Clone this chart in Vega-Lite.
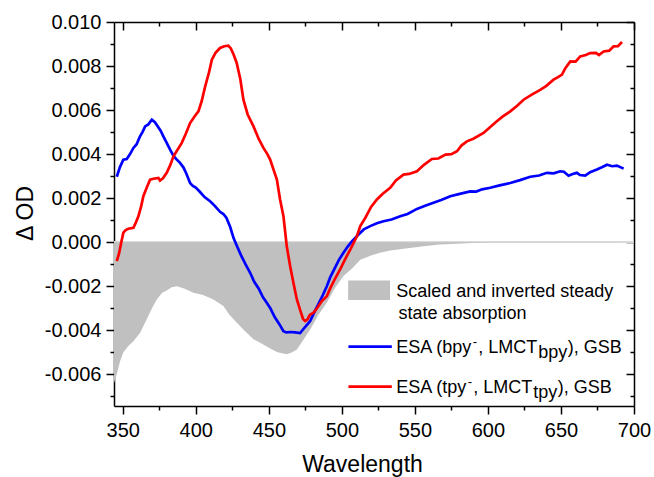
{
  "$schema": "https://vega.github.io/schema/vega-lite/v6.json",
  "width": 520,
  "height": 384,
  "autosize": {"type": "none"},
  "padding": {"left": 114, "top": 22, "right": 20, "bottom": 71},
  "background": "white",
  "config": {
    "view": {"stroke": null},
    "axis": {
      "domainColor": "black", "tickColor": "black", "labelColor": "black", "titleColor": "black",
      "grid": false, "domainWidth": 1.5, "tickWidth": 1.5,
      "labelFont": "Liberation Sans", "titleFont": "Liberation Sans",
      "labelFontSize": 20, "titleFontSize": 23, "titleFontWeight": "normal",
      "labelFlush": false, "labelOverlap": false, "labelBound": false
    },
    "text": {"font": "Liberation Sans", "fontSize": 18, "align": "left", "baseline": "alphabetic", "color": "black"}
  },
  "datasets": {
    "one": [{"k": 1}],
    "ssa": [
      {"wl": 344, "od": -0.0064}, {"wl": 346.3, "od": -0.0059}, {"wl": 348.2, "od": -0.0054}, {"wl": 350.4, "od": -0.0050},
      {"wl": 354, "od": -0.0047}, {"wl": 357.3, "od": -0.0045}, {"wl": 362, "od": -0.0041}, {"wl": 366.4, "od": -0.0035},
      {"wl": 370, "od": -0.003}, {"wl": 373.3, "od": -0.0026}, {"wl": 377, "od": -0.0023}, {"wl": 380.1, "od": -0.0022},
      {"wl": 383.5, "od": -0.00205}, {"wl": 387, "od": -0.002}, {"wl": 392, "od": -0.0021}, {"wl": 398.4, "od": -0.0023},
      {"wl": 405, "od": -0.0024}, {"wl": 412, "od": -0.0026}, {"wl": 418.9, "od": -0.0029}, {"wl": 423, "od": -0.0033},
      {"wl": 428.1, "od": -0.00366}, {"wl": 433, "od": -0.004}, {"wl": 439.5, "od": -0.00441}, {"wl": 445, "od": -0.0046},
      {"wl": 450.9, "od": -0.00483}, {"wl": 456, "od": -0.005}, {"wl": 462.3, "od": -0.00509}, {"wl": 466, "od": -0.005},
      {"wl": 469.2, "od": -0.00487}, {"wl": 473, "od": -0.0045}, {"wl": 478.3, "od": -0.00396}, {"wl": 484, "od": -0.0033},
      {"wl": 489.7, "od": -0.00275}, {"wl": 495, "od": -0.0021}, {"wl": 501.1, "od": -0.00154}, {"wl": 507, "od": -0.0012},
      {"wl": 512.6, "od": -0.0008}, {"wl": 520, "od": -0.0006}, {"wl": 526, "od": -0.00048}, {"wl": 533.1, "od": -0.00038},
      {"wl": 545, "od": -0.00027}, {"wl": 555.9, "od": -0.00018}, {"wl": 567, "od": -0.00011}, {"wl": 578.8, "od": -0.00007},
      {"wl": 590, "od": -0.00004}, {"wl": 600, "od": -0.00002}, {"wl": 620, "od": -0.00001}, {"wl": 700, "od": -0.000005}
    ],
    "esa": [
      {"series": "bpy", "wl": 345.9, "od": 0.00297}, {"series": "bpy", "wl": 348, "od": 0.0034}, {"series": "bpy", "wl": 350.4, "od": 0.00375},
      {"series": "bpy", "wl": 352.7, "od": 0.00378}, {"series": "bpy", "wl": 355, "od": 0.004}, {"series": "bpy", "wl": 357.3, "od": 0.00428},
      {"series": "bpy", "wl": 359.5, "od": 0.00445}, {"series": "bpy", "wl": 361.8, "od": 0.00481}, {"series": "bpy", "wl": 363.5, "od": 0.005},
      {"series": "bpy", "wl": 365.3, "od": 0.00526}, {"series": "bpy", "wl": 367.5, "od": 0.00535}, {"series": "bpy", "wl": 369.9, "od": 0.00556},
      {"series": "bpy", "wl": 372, "od": 0.00545}, {"series": "bpy", "wl": 374, "od": 0.00525}, {"series": "bpy", "wl": 376, "od": 0.00505},
      {"series": "bpy", "wl": 377.8, "od": 0.00481}, {"series": "bpy", "wl": 380, "od": 0.00452}, {"series": "bpy", "wl": 382.4, "od": 0.0042},
      {"series": "bpy", "wl": 384.5, "od": 0.00395}, {"series": "bpy", "wl": 386.5, "od": 0.00378}, {"series": "bpy", "wl": 389.2, "od": 0.0036},
      {"series": "bpy", "wl": 391.5, "od": 0.0034}, {"series": "bpy", "wl": 393.5, "od": 0.00312}, {"series": "bpy", "wl": 396.1, "od": 0.00269},
      {"series": "bpy", "wl": 398, "od": 0.00255}, {"series": "bpy", "wl": 400, "od": 0.00248}, {"series": "bpy", "wl": 402.9, "od": 0.00228},
      {"series": "bpy", "wl": 406, "od": 0.00205}, {"series": "bpy", "wl": 409.8, "od": 0.00186}, {"series": "bpy", "wl": 413, "od": 0.00165},
      {"series": "bpy", "wl": 416.6, "od": 0.00138}, {"series": "bpy", "wl": 418.9, "od": 0.00128}, {"series": "bpy", "wl": 421, "od": 0.0011},
      {"series": "bpy", "wl": 423.5, "od": 0.0007}, {"series": "bpy", "wl": 425.8, "od": 0.0002}, {"series": "bpy", "wl": 428, "od": -0.00015},
      {"series": "bpy", "wl": 431, "od": -0.0006}, {"series": "bpy", "wl": 434, "od": -0.001}, {"series": "bpy", "wl": 437.2, "od": -0.00139},
      {"series": "bpy", "wl": 440, "od": -0.0018}, {"series": "bpy", "wl": 443, "od": -0.0021}, {"series": "bpy", "wl": 446, "od": -0.0025},
      {"series": "bpy", "wl": 448.6, "od": -0.00275}, {"series": "bpy", "wl": 451, "od": -0.003}, {"series": "bpy", "wl": 454, "od": -0.0034},
      {"series": "bpy", "wl": 457, "od": -0.0037}, {"series": "bpy", "wl": 460, "od": -0.00404}, {"series": "bpy", "wl": 462, "od": -0.0041},
      {"series": "bpy", "wl": 465, "od": -0.00408}, {"series": "bpy", "wl": 468, "od": -0.0041}, {"series": "bpy", "wl": 471.4, "od": -0.00413},
      {"series": "bpy", "wl": 473, "od": -0.004}, {"series": "bpy", "wl": 475.5, "od": -0.0038}, {"series": "bpy", "wl": 478.3, "od": -0.00358},
      {"series": "bpy", "wl": 481, "od": -0.0032}, {"series": "bpy", "wl": 484, "od": -0.0028}, {"series": "bpy", "wl": 487, "od": -0.0024},
      {"series": "bpy", "wl": 489.7, "od": -0.002}, {"series": "bpy", "wl": 492, "od": -0.0016}, {"series": "bpy", "wl": 495, "od": -0.0012},
      {"series": "bpy", "wl": 498, "od": -0.0008}, {"series": "bpy", "wl": 501.1, "od": -0.00048}, {"series": "bpy", "wl": 504, "od": -0.0002},
      {"series": "bpy", "wl": 507, "od": 0.00005}, {"series": "bpy", "wl": 511.4, "od": 0.00035}, {"series": "bpy", "wl": 515, "od": 0.00058},
      {"series": "bpy", "wl": 519.4, "od": 0.00073}, {"series": "bpy", "wl": 524, "od": 0.00086}, {"series": "bpy", "wl": 528.5, "od": 0.00095},
      {"series": "bpy", "wl": 534, "od": 0.00103}, {"series": "bpy", "wl": 539.9, "od": 0.00118}, {"series": "bpy", "wl": 545, "od": 0.00128},
      {"series": "bpy", "wl": 551.4, "od": 0.00151}, {"series": "bpy", "wl": 557, "od": 0.00165}, {"series": "bpy", "wl": 562.7, "od": 0.00179},
      {"series": "bpy", "wl": 568, "od": 0.00192}, {"series": "bpy", "wl": 574.2, "od": 0.00209}, {"series": "bpy", "wl": 580, "od": 0.00218},
      {"series": "bpy", "wl": 587.9, "od": 0.00231}, {"series": "bpy", "wl": 592, "od": 0.0023}, {"series": "bpy", "wl": 596, "od": 0.0024},
      {"series": "bpy", "wl": 601.6, "od": 0.00247}, {"series": "bpy", "wl": 608, "od": 0.00258}, {"series": "bpy", "wl": 615.3, "od": 0.00269},
      {"series": "bpy", "wl": 622, "od": 0.00282}, {"series": "bpy", "wl": 629, "od": 0.00297}, {"series": "bpy", "wl": 635, "od": 0.00303},
      {"series": "bpy", "wl": 640.4, "od": 0.00315}, {"series": "bpy", "wl": 645, "od": 0.00313}, {"series": "bpy", "wl": 649.5, "od": 0.00322},
      {"series": "bpy", "wl": 652, "od": 0.0032}, {"series": "bpy", "wl": 655.2, "od": 0.00302}, {"series": "bpy", "wl": 658, "od": 0.0031},
      {"series": "bpy", "wl": 660.9, "od": 0.00315}, {"series": "bpy", "wl": 663, "od": 0.00305}, {"series": "bpy", "wl": 666.6, "od": 0.00302},
      {"series": "bpy", "wl": 670, "od": 0.00318}, {"series": "bpy", "wl": 674.6, "od": 0.0033}, {"series": "bpy", "wl": 678, "od": 0.0034},
      {"series": "bpy", "wl": 681.5, "od": 0.00352}, {"series": "bpy", "wl": 685, "od": 0.00345}, {"series": "bpy", "wl": 688.3, "od": 0.00348},
      {"series": "bpy", "wl": 692.9, "od": 0.00334},
      {"series": "tpy", "wl": 345.9, "od": -0.00086}, {"series": "tpy", "wl": 347.5, "od": -0.0005}, {"series": "tpy", "wl": 349, "od": 0.0},
      {"series": "tpy", "wl": 350.4, "od": 0.00043}, {"series": "tpy", "wl": 352, "od": 0.00055}, {"series": "tpy", "wl": 353.8, "od": 0.00061},
      {"series": "tpy", "wl": 357.3, "od": 0.00065}, {"series": "tpy", "wl": 359, "od": 0.0009}, {"series": "tpy", "wl": 360.7, "od": 0.00118},
      {"series": "tpy", "wl": 362.5, "od": 0.0016}, {"series": "tpy", "wl": 364.1, "od": 0.00209}, {"series": "tpy", "wl": 366.5, "od": 0.0025},
      {"series": "tpy", "wl": 368.7, "od": 0.00284}, {"series": "tpy", "wl": 371, "od": 0.00288}, {"series": "tpy", "wl": 374.4, "od": 0.00292},
      {"series": "tpy", "wl": 375.5, "od": 0.0028}, {"series": "tpy", "wl": 377.5, "od": 0.0029}, {"series": "tpy", "wl": 380.1, "od": 0.00315},
      {"series": "tpy", "wl": 382.5, "od": 0.0035}, {"series": "tpy", "wl": 384.7, "od": 0.0039}, {"series": "tpy", "wl": 387.5, "od": 0.0042},
      {"series": "tpy", "wl": 390.4, "od": 0.00451}, {"series": "tpy", "wl": 393, "od": 0.0049}, {"series": "tpy", "wl": 396.1, "od": 0.00541},
      {"series": "tpy", "wl": 399, "od": 0.0057}, {"series": "tpy", "wl": 401.8, "od": 0.00594}, {"series": "tpy", "wl": 404, "od": 0.0064},
      {"series": "tpy", "wl": 406.4, "od": 0.00707}, {"series": "tpy", "wl": 409, "od": 0.0077}, {"series": "tpy", "wl": 411, "od": 0.00829},
      {"series": "tpy", "wl": 413.5, "od": 0.0086}, {"series": "tpy", "wl": 416.6, "od": 0.00882}, {"series": "tpy", "wl": 419.5, "od": 0.0089},
      {"series": "tpy", "wl": 422.3, "od": 0.00892}, {"series": "tpy", "wl": 424, "od": 0.0088}, {"series": "tpy", "wl": 426, "od": 0.0085},
      {"series": "tpy", "wl": 428, "od": 0.00814}, {"series": "tpy", "wl": 430.5, "od": 0.0074}, {"series": "tpy", "wl": 432.6, "od": 0.00647},
      {"series": "tpy", "wl": 435.5, "od": 0.0058}, {"series": "tpy", "wl": 439.5, "od": 0.00526}, {"series": "tpy", "wl": 443, "od": 0.0047},
      {"series": "tpy", "wl": 446.3, "od": 0.00428}, {"series": "tpy", "wl": 449, "od": 0.004}, {"series": "tpy", "wl": 450.9, "od": 0.00375},
      {"series": "tpy", "wl": 453.2, "od": 0.0033}, {"series": "tpy", "wl": 455.5, "od": 0.00284}, {"series": "tpy", "wl": 457.7, "od": 0.00194},
      {"series": "tpy", "wl": 460, "od": 0.00118}, {"series": "tpy", "wl": 462.3, "od": -0.0002}, {"series": "tpy", "wl": 464.6, "od": -0.00109},
      {"series": "tpy", "wl": 467, "od": -0.0019}, {"series": "tpy", "wl": 469.2, "od": -0.0026}, {"series": "tpy", "wl": 471.5, "od": -0.0031},
      {"series": "tpy", "wl": 473.5, "od": -0.0035}, {"series": "tpy", "wl": 474.9, "od": -0.00358}, {"series": "tpy", "wl": 476.5, "od": -0.0035},
      {"series": "tpy", "wl": 478, "od": -0.0033}, {"series": "tpy", "wl": 480.6, "od": -0.0032}, {"series": "tpy", "wl": 483, "od": -0.003},
      {"series": "tpy", "wl": 486, "od": -0.0027}, {"series": "tpy", "wl": 489.7, "od": -0.00245}, {"series": "tpy", "wl": 492, "od": -0.0021},
      {"series": "tpy", "wl": 495, "od": -0.0017}, {"series": "tpy", "wl": 498.8, "od": -0.00124}, {"series": "tpy", "wl": 502, "od": -0.0008},
      {"series": "tpy", "wl": 506, "od": -0.0003}, {"series": "tpy", "wl": 510.3, "od": 0.00027}, {"series": "tpy", "wl": 512.6, "od": 0.00073},
      {"series": "tpy", "wl": 516, "od": 0.0011}, {"series": "tpy", "wl": 520, "od": 0.0016}, {"series": "tpy", "wl": 524, "od": 0.00194},
      {"series": "tpy", "wl": 528, "od": 0.0022}, {"series": "tpy", "wl": 533.1, "od": 0.00247}, {"series": "tpy", "wl": 537, "od": 0.0028},
      {"series": "tpy", "wl": 542.2, "od": 0.00307}, {"series": "tpy", "wl": 546, "od": 0.0031}, {"series": "tpy", "wl": 551.4, "od": 0.00322},
      {"series": "tpy", "wl": 556, "od": 0.0035}, {"series": "tpy", "wl": 561.6, "od": 0.00378}, {"series": "tpy", "wl": 566, "od": 0.0038},
      {"series": "tpy", "wl": 571, "od": 0.00398}, {"series": "tpy", "wl": 575, "od": 0.004}, {"series": "tpy", "wl": 578.8, "od": 0.00413},
      {"series": "tpy", "wl": 582, "od": 0.0044}, {"series": "tpy", "wl": 585.6, "od": 0.00458}, {"series": "tpy", "wl": 590, "od": 0.0047},
      {"series": "tpy", "wl": 597, "od": 0.00496}, {"series": "tpy", "wl": 601, "od": 0.0052}, {"series": "tpy", "wl": 606.1, "od": 0.00549},
      {"series": "tpy", "wl": 610, "od": 0.0057}, {"series": "tpy", "wl": 615.3, "od": 0.00594}, {"series": "tpy", "wl": 620, "od": 0.0062},
      {"series": "tpy", "wl": 624.4, "od": 0.00647}, {"series": "tpy", "wl": 630, "od": 0.0067}, {"series": "tpy", "wl": 635.8, "od": 0.00692},
      {"series": "tpy", "wl": 640, "od": 0.0071}, {"series": "tpy", "wl": 644.9, "od": 0.00738}, {"series": "tpy", "wl": 648, "od": 0.0075},
      {"series": "tpy", "wl": 650.7, "od": 0.00761}, {"series": "tpy", "wl": 653, "od": 0.0079}, {"series": "tpy", "wl": 656.4, "od": 0.00821},
      {"series": "tpy", "wl": 660, "od": 0.0082}, {"series": "tpy", "wl": 663.2, "od": 0.00844}, {"series": "tpy", "wl": 667, "od": 0.0085},
      {"series": "tpy", "wl": 670, "od": 0.00859}, {"series": "tpy", "wl": 674, "od": 0.0086}, {"series": "tpy", "wl": 676, "od": 0.0085},
      {"series": "tpy", "wl": 679.2, "od": 0.00866}, {"series": "tpy", "wl": 683, "od": 0.0087}, {"series": "tpy", "wl": 686, "od": 0.00889},
      {"series": "tpy", "wl": 689, "od": 0.0089}, {"series": "tpy", "wl": 691.8, "od": 0.00909}
    ]
  },
  "resolve": {"axis": {"x": "independent", "y": "independent"}},
  "layer": [
    {
      "data": {"name": "ssa"},
      "mark": {"type": "rule", "color": "#d9d9d9", "strokeWidth": 1.5},
      "encoding": {"y": {"datum": 0, "type": "quantitative", "axis": null}}
    },
    {
      "data": {"name": "ssa"},
      "mark": {"type": "area", "color": "#c0c0c0", "opacity": 1},
      "encoding": {
        "x": {"field": "wl", "type": "quantitative", "scale": {"domain": [344, 700], "nice": false, "zero": false},
          "axis": {"orient": "bottom", "values": [350, 400, 450, 500, 550, 600, 650, 700], "tickSize": 8, "labelPadding": 6,
            "title": "Wavelength", "titleX": 248, "titleY": 65, "titleBaseline": "alphabetic", "titleAlign": "center"}},
        "y": {"field": "od", "type": "quantitative", "scale": {"domain": [-0.00744, 0.010], "nice": false, "zero": false},
          "axis": {"orient": "left", "values": [-0.006, -0.004, -0.002, 0, 0.002, 0.004, 0.006, 0.008, 0.010], "tickSize": 8, "labelPadding": 5,
            "labelExpr": "replace(format(datum.value, '.3f'), '\u2212', '-')",
            "title": "Δ OD", "titleX": -82, "titleY": 191, "titleAngle": 270, "titleBaseline": "alphabetic", "titleAlign": "center"}},
        "y2": {"datum": 0}
      }
    },
    {
      "data": {"name": "esa"},
      "mark": {"type": "line", "strokeWidth": 2.7},
      "encoding": {
        "x": {"field": "wl", "type": "quantitative",
          "axis": {"orient": "bottom", "values": [375, 425, 475, 525, 575, 625, 675], "tickSize": 4, "labels": false, "domain": false, "title": null}},
        "y": {"field": "od", "type": "quantitative",
          "axis": {"orient": "left", "values": [-0.007, -0.005, -0.003, -0.001, 0.001, 0.003, 0.005, 0.007, 0.009], "tickSize": 4, "labels": false, "domain": false, "title": null}},
        "color": {"field": "series", "type": "nominal", "scale": {"domain": ["bpy", "tpy"], "range": ["#0000ff", "#ff0000"]}, "legend": null}
      }
    },
    {
      "data": {"name": "ssa"},
      "mark": {"type": "point", "opacity": 0},
      "encoding": {
        "x": {"field": "wl", "type": "quantitative",
          "axis": {"orient": "top", "values": [350, 400, 450, 500, 550, 600, 650, 700], "tickSize": -8, "labels": false, "title": null}},
        "y": {"field": "od", "type": "quantitative",
          "axis": {"orient": "right", "values": [-0.006, -0.004, -0.002, 0, 0.002, 0.004, 0.006, 0.008, 0.010], "tickSize": -8, "labels": false, "title": null}}
      }
    },
    {
      "data": {"name": "ssa"},
      "mark": {"type": "point", "opacity": 0},
      "encoding": {
        "x": {"field": "wl", "type": "quantitative",
          "axis": {"orient": "top", "values": [375, 425, 475, 525, 575, 625, 675], "tickSize": -4, "labels": false, "domain": false, "title": null}},
        "y": {"field": "od", "type": "quantitative",
          "axis": {"orient": "right", "values": [-0.007, -0.005, -0.003, -0.001, 0.001, 0.003, 0.005, 0.007, 0.009], "tickSize": -4, "labels": false, "domain": false, "title": null}}
      }
    },
    {
      "data": {"name": "one"},
      "mark": {"type": "rect", "color": "#c0c0c0"},
      "encoding": {
        "x": {"datum": 504.3, "type": "quantitative", "axis": null}, "x2": {"datum": 533},
        "y": {"datum": -0.00174, "type": "quantitative", "axis": null}, "y2": {"datum": -0.00263}
      }
    },
    {
      "data": {"name": "one"},
      "mark": {"type": "rule", "color": "#0000ff", "strokeWidth": 2.7},
      "encoding": {
        "x": {"datum": 504.5, "type": "quantitative", "axis": null}, "x2": {"datum": 534.2},
        "y": {"datum": -0.00474, "type": "quantitative", "axis": null}
      }
    },
    {
      "data": {"name": "one"},
      "mark": {"type": "rule", "color": "#ff0000", "strokeWidth": 2.7},
      "encoding": {
        "x": {"datum": 504.5, "type": "quantitative", "axis": null}, "x2": {"datum": 534.2},
        "y": {"datum": -0.00656, "type": "quantitative", "axis": null}
      }
    },
    {
      "data": {"name": "one"},
      "mark": {"type": "text"},
      "encoding": {
        "x": {"datum": 537.2, "type": "quantitative", "axis": null},
        "y": {"datum": -0.00248, "type": "quantitative", "axis": null},
        "text": {"value": "Scaled and inverted steady"}
      }
    },
    {
      "data": {"name": "one"},
      "mark": {"type": "text"},
      "encoding": {
        "x": {"datum": 538.8, "type": "quantitative", "axis": null},
        "y": {"datum": -0.00351, "type": "quantitative", "axis": null},
        "text": {"value": "state absorption"}
      }
    },
    {
      "data": {"name": "one"},
      "mark": {"type": "text"},
      "encoding": {"x": {"datum": 537.2, "type": "quantitative", "axis": null}, "y": {"datum": -0.00502, "type": "quantitative", "axis": null}, "text": {"value": "ESA (bpy"}}
    },
    {
      "data": {"name": "one"},
      "mark": {"type": "text", "dx": 76.5, "dy": -7, "fontSize": 13},
      "encoding": {"x": {"datum": 537.2, "type": "quantitative", "axis": null}, "y": {"datum": -0.00502, "type": "quantitative", "axis": null}, "text": {"value": "-"}}
    },
    {
      "data": {"name": "one"},
      "mark": {"type": "text", "dx": 82},
      "encoding": {"x": {"datum": 537.2, "type": "quantitative", "axis": null}, "y": {"datum": -0.00502, "type": "quantitative", "axis": null}, "text": {"value": ", LMCT"}}
    },
    {
      "data": {"name": "one"},
      "mark": {"type": "text", "dx": 142, "dy": 5},
      "encoding": {"x": {"datum": 537.2, "type": "quantitative", "axis": null}, "y": {"datum": -0.00502, "type": "quantitative", "axis": null}, "text": {"value": "bpy"}}
    },
    {
      "data": {"name": "one"},
      "mark": {"type": "text", "dx": 171.5},
      "encoding": {"x": {"datum": 537.2, "type": "quantitative", "axis": null}, "y": {"datum": -0.00502, "type": "quantitative", "axis": null}, "text": {"value": "), GSB"}}
    },
    {
      "data": {"name": "one"},
      "mark": {"type": "text"},
      "encoding": {"x": {"datum": 537.2, "type": "quantitative", "axis": null}, "y": {"datum": -0.00686, "type": "quantitative", "axis": null}, "text": {"value": "ESA (tpy"}}
    },
    {
      "data": {"name": "one"},
      "mark": {"type": "text", "dx": 71.5, "dy": -7, "fontSize": 13},
      "encoding": {"x": {"datum": 537.2, "type": "quantitative", "axis": null}, "y": {"datum": -0.00686, "type": "quantitative", "axis": null}, "text": {"value": "-"}}
    },
    {
      "data": {"name": "one"},
      "mark": {"type": "text", "dx": 77},
      "encoding": {"x": {"datum": 537.2, "type": "quantitative", "axis": null}, "y": {"datum": -0.00686, "type": "quantitative", "axis": null}, "text": {"value": ", LMCT"}}
    },
    {
      "data": {"name": "one"},
      "mark": {"type": "text", "dx": 137, "dy": 5},
      "encoding": {"x": {"datum": 537.2, "type": "quantitative", "axis": null}, "y": {"datum": -0.00686, "type": "quantitative", "axis": null}, "text": {"value": "tpy"}}
    },
    {
      "data": {"name": "one"},
      "mark": {"type": "text", "dx": 161.5},
      "encoding": {"x": {"datum": 537.2, "type": "quantitative", "axis": null}, "y": {"datum": -0.00686, "type": "quantitative", "axis": null}, "text": {"value": "), GSB"}}
    }
  ]
}
